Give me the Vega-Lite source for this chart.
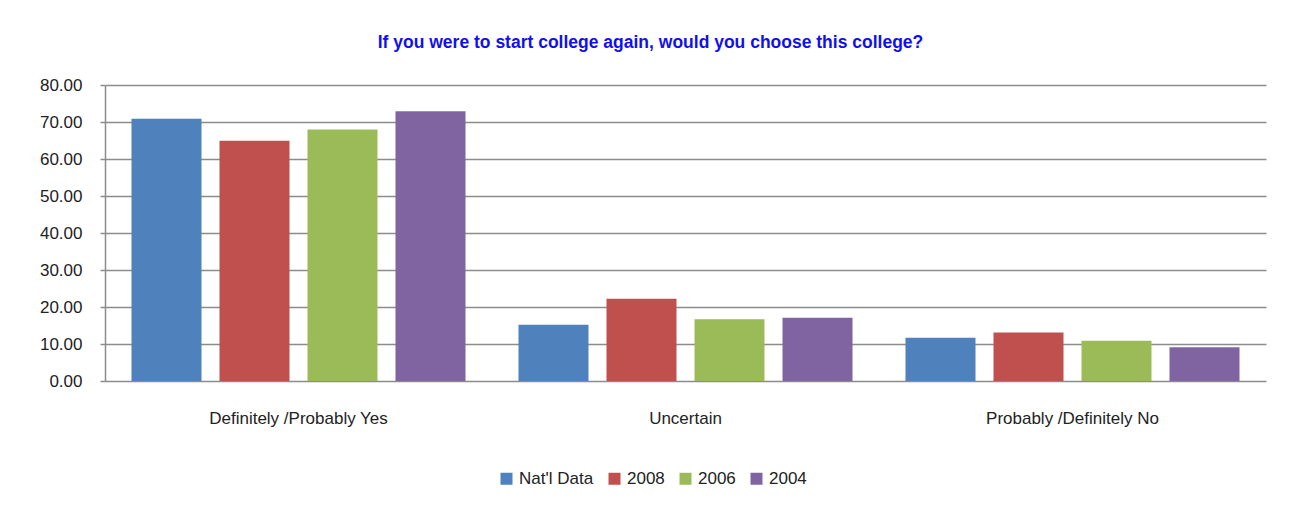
{
  "$schema": "https://vega.github.io/schema/vega-lite/v6.json",
  "width": 1161,
  "height": 296,
  "autosize": {"type": "none"},
  "padding": {"left": 105, "top": 85, "right": 29, "bottom": 127},
  "background": "white",
  "title": {
    "text": "If you were to start college again, would you choose this college?",
    "color": "#1010ee",
    "font": "Liberation Sans, sans-serif",
    "fontSize": 17.5,
    "fontWeight": "bold",
    "anchor": "middle",
    "dx": -35,
    "offset": 25
  },
  "data": {
    "values": [
      {"response": "Definitely /Probably Yes", "series": "Nat'l Data", "value": 70.9},
      {"response": "Definitely /Probably Yes", "series": "2008", "value": 64.9},
      {"response": "Definitely /Probably Yes", "series": "2006", "value": 68.0},
      {"response": "Definitely /Probably Yes", "series": "2004", "value": 72.9},
      {"response": "Uncertain", "series": "Nat'l Data", "value": 15.2},
      {"response": "Uncertain", "series": "2008", "value": 22.2},
      {"response": "Uncertain", "series": "2006", "value": 16.7},
      {"response": "Uncertain", "series": "2004", "value": 17.1},
      {"response": "Probably /Definitely No", "series": "Nat'l Data", "value": 11.7},
      {"response": "Probably /Definitely No", "series": "2008", "value": 13.1},
      {"response": "Probably /Definitely No", "series": "2006", "value": 10.9},
      {"response": "Probably /Definitely No", "series": "2004", "value": 9.1}
    ]
  },
  "mark": {"type": "bar"},
  "encoding": {
    "x": {
      "field": "response",
      "type": "nominal",
      "sort": ["Definitely /Probably Yes", "Uncertain", "Probably /Definitely No"],
      "scale": {"paddingInner": 0, "paddingOuter": 0},
      "axis": {
        "title": null,
        "labelAngle": 0,
        "ticks": false,
        "domain": false,
        "labelPadding": 29,
        "labelFontSize": 17,
        "labelColor": "#222222",
        "labelFont": "Liberation Sans, sans-serif"
      }
    },
    "xOffset": {
      "field": "series",
      "type": "nominal",
      "sort": ["Nat'l Data", "2008", "2006", "2004"],
      "scale": {"paddingInner": 0.2045, "paddingOuter": 0.301}
    },
    "y": {
      "field": "value",
      "type": "quantitative",
      "scale": {"domain": [0, 80]},
      "axis": {
        "title": null,
        "values": [0, 10, 20, 30, 40, 50, 60, 70, 80],
        "format": ".2f",
        "labelFontSize": 17,
        "labelColor": "#222222",
        "labelFont": "Liberation Sans, sans-serif",
        "labelPadding": 18,
        "tickSize": 5,
        "tickColor": "#8c8c8c",
        "tickWidth": 1.5,
        "domainColor": "#8c8c8c",
        "domainWidth": 1.5,
        "gridColor": "#8c8c8c",
        "gridWidth": 1.5
      }
    },
    "color": {
      "field": "series",
      "type": "nominal",
      "sort": ["Nat'l Data", "2008", "2006", "2004"],
      "scale": {
        "domain": ["Nat'l Data", "2008", "2006", "2004"],
        "range": ["#4F81BD", "#C0504D", "#9BBB59", "#8064A2"]
      },
      "legend": {
        "title": null,
        "orient": "none",
        "legendX": 393,
        "legendY": 385,
        "direction": "horizontal",
        "symbolType": "square",
        "symbolSize": 144,
        "symbolStrokeWidth": 0,
        "labelFontSize": 17,
        "labelColor": "#222222",
        "labelFont": "Liberation Sans, sans-serif",
        "columnPadding": 12,
        "labelOffset": 4
      }
    }
  },
  "config": {
    "view": {"stroke": null}
  }
}
